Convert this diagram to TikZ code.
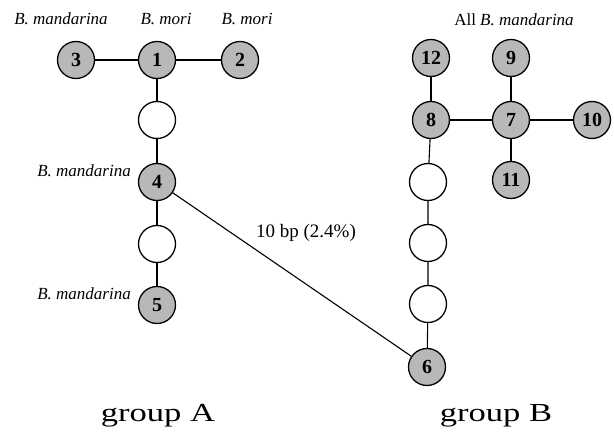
\documentclass[tikz,border=0pt]{standalone}
\usepackage{fontspec}
\setmainfont{Liberation Serif}
\newfontfamily\grpfont[FakeStretch=1.33]{Liberation Serif}
\begin{document}
\begin{tikzpicture}[x=1pt,y=-1pt,
  hap/.style={circle,draw=black,line width=1.3pt,minimum size=37pt,inner sep=0pt,
    fill=black!28,font=\fontsize{20}{22}\selectfont\bfseries},
  gap/.style={circle,draw=black,line width=1.3pt,minimum size=37pt,inner sep=0pt,fill=white},
  link/.style={line width=1.1pt},
  sp/.style={font=\fontsize{17}{19}\selectfont\itshape,inner sep=0pt,anchor=base},
  grp/.style={font=\grpfont\fontsize{26}{28}\selectfont,inner sep=0pt,anchor=base}]
\useasboundingbox (0,0) rectangle (614,435);

% group A
\node[hap] (n3) at (76,60) {3};
\node[hap] (n1) at (157,60) {1};
\node[hap] (n2) at (240,60) {2};
\node[gap] (a1) at (157,120) {};
\node[hap] (n4) at (157,182) {4};
\node[gap] (a2) at (157,244) {};
\node[hap] (n5) at (157,305) {5};

% group B
\node[hap] (n12) at (431,58) {12};
\node[hap] (n9) at (511,58) {9};
\node[hap] (n8) at (431,120) {8};
\node[hap] (n7) at (511,120) {7};
\node[hap] (n10) at (592,120) {10};
\node[hap] (n11) at (511,180) {11};
\node[gap] (b1) at (428,182) {};
\node[gap] (b2) at (428,243) {};
\node[gap] (b3) at (428,304) {};
\node[hap] (n6) at (427,367) {6};

% links
\draw[link] (n3) -- (n1) -- (n2);
\draw[link] (n1) -- (a1) -- (n4) -- (a2) -- (n5);
\draw[link] (n12) -- (n8) -- (n7) -- (n10);
\draw[link] (n9) -- (n7) -- (n11);
\draw[link] (n8) -- (b1) -- (b2) -- (b3) -- (n6);
\draw[link] (n4) -- (n6);

% labels
\node[sp] (l3) at (61,25) {B. mandarina};
\node[sp] (l1) at (166,25) {B. mori};
\node[sp] (l2) at (247,25) {B. mori};
\node[sp,anchor=base east] (l4) at (131,177) {B. mandarina};
\node[sp,anchor=base east] (l5) at (131,300) {B. mandarina};
\node[font=\fontsize{17}{19}\selectfont,inner sep=0pt,anchor=base] (lb) at (514,26) {All \textit{B. mandarina}};
\node[font=\fontsize{19}{21}\selectfont,inner sep=0pt,anchor=base] (d46) at (306,238) {10 bp (2.4\%)};

\node[grp] (ga) at (158,422) {group A};
\node[grp] (gb) at (496,422) {group B};
\end{tikzpicture}
\end{document}
